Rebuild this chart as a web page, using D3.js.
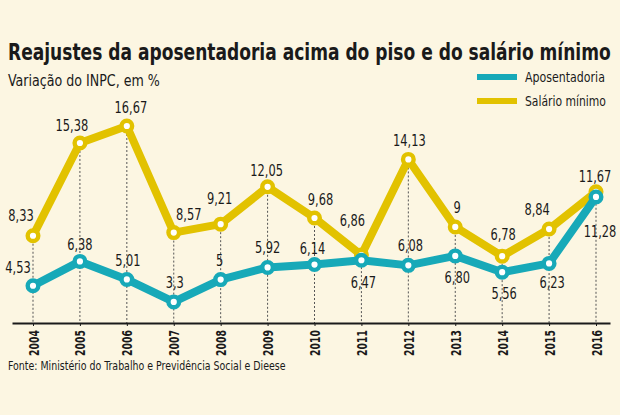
<!DOCTYPE html>
<html>
<head>
<meta charset="utf-8">
<script src="https://cdn.jsdelivr.net/npm/d3@7"></script>
<style>
  body { margin: 0; background: #fcf6e2; }
  svg { display: block; }
  text { font-family: "DejaVu Sans Condensed", "DejaVu Sans", sans-serif; fill: #1a1a1a; }
</style>
</head>
<body>
<svg id="viz"></svg>
<script>
// data
const years = [2004, 2005, 2006, 2007, 2008, 2009, 2010, 2011, 2012, 2013, 2014, 2015, 2016];
const aposentadoria = [4.53, 6.38, 5.01, 3.3, 5, 5.92, 6.14, 6.47, 6.08, 6.80, 5.56, 6.23, 11.28];
const salarioMinimo = [8.33, 15.38, 16.67, 8.57, 9.21, 12.05, 9.68, 6.86, 14.13, 9, 6.78, 8.84, 11.67];
const aposLabels = ["4,53", "6,38", "5,01", "3,3", "5", "5,92", "6,14", "6,47", "6,08", "6,80", "5,56", "6,23", "11,28"];
const salLabels = ["8,33", "15,38", "16,67", "8,57", "9,21", "12,05", "9,68", "6,86", "14,13", "9", "6,78", "8,84", "11,67"];

// label nudges relative to each point [dx, dy to baseline]
const aposNudge = [[-15, -13], [0, -11], [1, -13], [1, -14], [-1, -14], [0, -14], [-2, -11],
                   [2, 28], [2, -14], [2, 27], [2, 27], [3, 25], [4, 40]];
const salNudge = [[-12, -15], [-8, -12], [4, -13], [15, -13], [-1, -20], [-1, -11], [6, -13],
                  [-9, -29], [1, -13], [2, -14], [1, -16], [-12, -14], [-1, -10]];

const W = 620, H = 415;
const teal = "#17a9b8", yellow = "#e2c200";

const svg = d3.select("#viz").attr("width", W).attr("height", H);
svg.append("rect").attr("width", W).attr("height", H).attr("fill", "#fcf6e2");

const x = d3.scaleLinear().domain([2004, 2016]).range([33, 596]);
const y = d3.scaleLinear().domain([1.7, 16.67]).range([323, 126]);
const baseY = y(1.7);

// squeeze a left-anchored text horizontally to a given width
function fit(sel, target) {
    const w = sel.node().getComputedTextLength();
    const x0 = +sel.attr("x"), y0 = +sel.attr("y");
    sel.attr("x", 0).attr("y", 0)
       .attr("transform", `translate(${x0},${y0}) scale(${target / w},1)`);
    return sel;
}

// title block
fit(svg.append("text")
    .attr("x", 8).attr("y", 60)
    .attr("font-size", "23px").attr("font-weight", "bold")
    .text("Reajustes da aposentadoria acima do piso e do salário mínimo"), 603);

fit(svg.append("text")
    .attr("x", 8).attr("y", 86)
    .attr("font-size", "16px")
    .text("Variação do INPC, em %"), 152);

// legend
const legend = [
    { color: teal, label: "Aposentadoria", len: 80 },
    { color: yellow, label: "Salário mínimo", len: 81 }
];
legend.forEach((d, i) => {
    svg.append("rect")
        .attr("x", 477).attr("y", 74 + i * 24)
        .attr("width", 40).attr("height", 6)
        .attr("fill", d.color);
    fit(svg.append("text")
        .attr("x", 525).attr("y", 82 + i * 24)
        .attr("font-size", "14px")
        .text(d.label), d.len);
});

// dotted guides from the top point down to the base
years.forEach((yr, i) => {
    svg.append("line")
        .attr("x1", x(yr)).attr("x2", x(yr))
        .attr("y1", y(Math.max(aposentadoria[i], salarioMinimo[i])))
        .attr("y2", baseY)
        .attr("stroke", "#555")
        .attr("stroke-width", 1)
        .attr("stroke-dasharray", "2,2");
});

// x axis
const xAxisScale = x.copy().domain([x.invert(12), x.invert(610)]).range([12, 610]);
const axis = svg.append("g")
    .attr("transform", `translate(0,${baseY})`)
    .call(d3.axisBottom(xAxisScale).tickValues(years).tickSize(3).tickSizeOuter(0).tickFormat(d3.format("d")));
axis.select(".domain").attr("stroke", "#1a1a1a").attr("stroke-width", 2);
axis.selectAll(".tick line").attr("stroke", "#1a1a1a");
axis.selectAll(".tick text")
    .attr("transform", "translate(0,7) rotate(-90) scale(0.74,1)")
    .attr("x", 0).attr("y", 0).attr("dy", "0.36em")
    .attr("text-anchor", "end")
    .attr("font-size", "14px").attr("font-weight", "bold")
    .attr("font-family", null)
    .attr("fill", "#1a1a1a");

// series
const line = d3.line().x((d, i) => x(years[i])).y(d => y(d));
const series = [
    { values: salarioMinimo, labels: salLabels, nudge: salNudge, color: yellow },
    { values: aposentadoria, labels: aposLabels, nudge: aposNudge, color: teal }
];

series.forEach(s => {
    svg.append("path")
        .datum(s.values)
        .attr("d", line)
        .attr("fill", "none")
        .attr("stroke", s.color)
        .attr("stroke-width", 8)
        .attr("stroke-linejoin", "round");

    svg.selectAll(null)
        .data(s.values)
        .join("circle")
        .attr("cx", (d, i) => x(years[i]))
        .attr("cy", d => y(d))
        .attr("r", 5.3)
        .attr("fill", "#fff")
        .attr("stroke", s.color)
        .attr("stroke-width", 4.4);
});

series.forEach(s => {
    svg.selectAll(null)
        .data(s.values)
        .join("text")
        .attr("transform", (d, i) =>
            `translate(${x(years[i]) + s.nudge[i][0]},${y(d) + s.nudge[i][1]}) scale(0.82,1)`)
        .attr("text-anchor", "middle")
        .attr("font-size", "15.5px")
        .text((d, i) => s.labels[i]);
});

// source
fit(svg.append("text")
    .attr("x", 8).attr("y", 370)
    .attr("font-size", "13px")
    .text("Fonte: Ministério do Trabalho e Previdência Social e Dieese"), 278);
</script>
</body>
</html>
